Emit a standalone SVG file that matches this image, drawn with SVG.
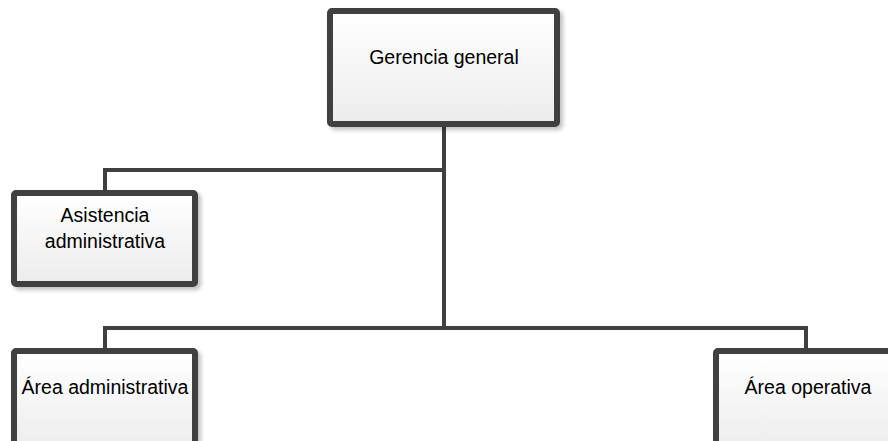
<svg xmlns="http://www.w3.org/2000/svg" width="888" height="441" viewBox="0 0 888 441">
<defs>
<linearGradient id="g" x1="0" y1="0" x2="0" y2="1">
<stop offset="0" stop-color="#ffffff"/>
<stop offset="1" stop-color="#ececec"/>
</linearGradient>
<filter id="sh" x="-10%" y="-10%" width="130%" height="130%">
<feGaussianBlur in="SourceAlpha" stdDeviation="2"/>
<feOffset dx="3" dy="3" result="b"/>
<feComponentTransfer><feFuncA type="linear" slope="0.25"/></feComponentTransfer>
<feMerge><feMergeNode/><feMergeNode in="SourceGraphic"/></feMerge>
</filter>
</defs>
<style>
.box{fill:url(#g);stroke:#404040;stroke-width:6;filter:url(#sh)}
.lbl{font-family:"Liberation Sans",Arial,sans-serif;font-size:19.5px;fill:#000;text-anchor:middle}
.con{fill:none;stroke:#404040;stroke-width:4}
</style>
<rect width="888" height="441" fill="#fff"/>
<g id="connectors">
<polyline class="con" points="444,127 444,328"/>
<polyline class="con" points="444,170 105,170 105,190"/>
<polyline class="con" points="806,348 806,328 105,328 105,348"/>
</g>
<g id="gerencia">
<rect class="box" x="330" y="11" width="227" height="113" rx="2"/>
<text class="lbl" x="444" y="64">Gerencia general</text>
</g>
<g id="asistencia">
<rect class="box" x="14" y="193" width="181" height="91" rx="2"/>
<text class="lbl" x="105" y="222">Asistencia</text>
<text class="lbl" x="105" y="248">administrativa</text>
</g>
<g id="area-admin">
<rect class="box" x="14" y="351" width="181" height="100" rx="2"/>
<text class="lbl" x="105" y="394">Área administrativa</text>
</g>
<g id="area-oper">
<rect class="box" x="716" y="351" width="200" height="100" rx="2"/>
<text class="lbl" x="808" y="394">Área operativa</text>
</g>
</svg>
